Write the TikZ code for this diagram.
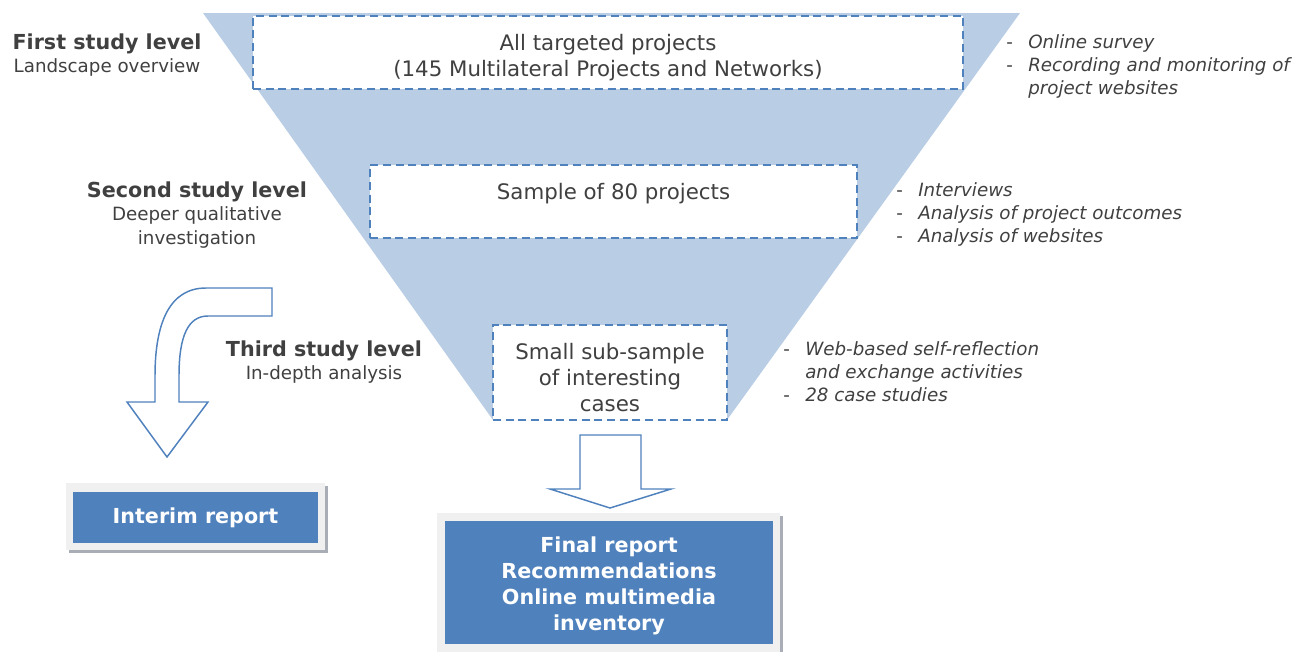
\documentclass[tikz,border=0pt]{standalone}
\usepackage{fontspec}
\setmainfont{DejaVu Sans}
\usetikzlibrary{positioning,backgrounds}

\definecolor{funnelblue}{HTML}{B9CDE5}
\definecolor{accent}{HTML}{4F81BD}
\definecolor{ink}{HTML}{404040}
\definecolor{framegray}{HTML}{F0F0F0}
\definecolor{shadowgray}{HTML}{A8ADB6}

\newcommand{\boxfont}{\fontsize{16}{19.5}\selectfont}
\newcommand{\headfont}{\fontsize{15.5}{18}\selectfont\bfseries}
\newcommand{\subfont}{\fontsize{13.7}{17.3}\selectfont}

\begin{document}
\begin{tikzpicture}[x=0.75pt,y=-0.75pt,text=ink,
  level box/.style={rectangle,draw=accent,fill=white,line width=2.2pt,
    dash pattern=on 6pt off 3.5pt,inner sep=0pt},
  level text/.style={font=\boxfont,align=center},
  level label/.style={font=\subfont,align=center},
  method list/.style={font=\subfont,anchor=base west,inner sep=0pt},
  report/.style={rectangle,fill=accent,text=white,font=\headfont,align=center},
  block arrow/.style={draw=accent,line width=1.1pt,fill=white,line join=miter}]

  \useasboundingbox (0,0) rectangle (1314,651);

  % funnel
  \fill[funnelblue] (203,13) -- (1020,13) -- (727,420) -- (493,420) -- cycle;

  \node[level box,minimum width=532.5pt,minimum height=54.75pt] (all) at (608,52.5) {};
  \node[level box,minimum width=365.25pt,minimum height=54.75pt] (sample) at (613.5,201.5) {};
  \node[level box,minimum width=175.5pt,minimum height=71.25pt] (cases) at (610,372.5) {};

  \node[level text] (all text) at ([shift={(0,5)}]all.center)
    {All targeted projects\\(145 Multilateral Projects and Networks)};
  \node[level text] (sample text) at ([shift={(0,-8)}]sample.center)
    {Sample of 80 projects};
  \node[level text] (cases text) at ([shift={(0,5)}]cases.center)
    {Small sub-sample\\of interesting\\cases};

  % study levels
  \node[level label] (first) at (107,55)
    {{\headfont First study level}\\Landscape overview};
  \node[level label] (second) at (197,215)
    {{\headfont Second study level}\\Deeper qualitative\\investigation};
  \node[level label] (third) at (324,362)
    {{\headfont Third study level}\\In-depth analysis};

  % methods
  \def\arraystretch{1}
  \node[method list] (m1) at (1006,48)
    {\begin{tabular}[t]{@{}p{16.5pt}@{}l@{}}
     - & \itshape Online survey\\
     - & \itshape Recording and monitoring of\\
       & \itshape project websites
     \end{tabular}};
  \node[method list] (m2) at (896,196)
    {\begin{tabular}[t]{@{}p{16.5pt}@{}l@{}}
     - & \itshape Interviews\\
     - & \itshape Analysis of project outcomes\\
     - & \itshape Analysis of websites
     \end{tabular}};
  \node[method list] (m3) at (783,355)
    {\begin{tabular}[t]{@{}p{16.5pt}@{}l@{}}
     - & \itshape Web-based self-reflection\\
       & \itshape and exchange activities\\
     - & \itshape 28 case studies
     \end{tabular}};

  % reports
  \node[report,minimum width=183.75pt,minimum height=38.25pt] (interim) at (195.5,517.5)
    {Interim report};
  \node[report,minimum width=246pt,minimum height=92.25pt] (final) at (609,582.5) {};
  \node[report,fill=none,font={\fontsize{15.5}{19.5}\selectfont\bfseries}] (final text)
    at ([shift={(0,3)}]final.center)
    {Final report\\Recommendations\\Online multimedia\\inventory};

  \begin{pgfonlayer}{background}
    \fill[shadowgray] ([shift={(-4,-6)}]interim.north west) rectangle ([shift={(10,10)}]interim.south east);
    \fill[framegray] ([shift={(-7,-9)}]interim.north west) rectangle ([shift={(7,7)}]interim.south east);
    \fill[shadowgray] ([shift={(-5,-5)}]final.north west) rectangle ([shift={(10,10)}]final.south east);
    \fill[framegray] ([shift={(-8,-8)}]final.north west) rectangle ([shift={(7,10)}]final.south east);
  \end{pgfonlayer}

  % arrows to the reports
  \coordinate (bend) at (272,288);
  \draw[block arrow] (bend) -- (206,288)
    .. controls (170,288) and (155,322) .. (155,376) -- (155,402) -- (127,402)
    -- (167,457) -- (208,402) -- (179,402) -- (179,376)
    .. controls (179,336) and (188,316) .. (208,316) -- (272,316) -- cycle;
  \draw[block arrow] (580,435) -- (641,435) -- (641,489) -- (671,489)
    -- (610,508) -- (550,489) -- (580,489) -- cycle;

\end{tikzpicture}
\end{document}
